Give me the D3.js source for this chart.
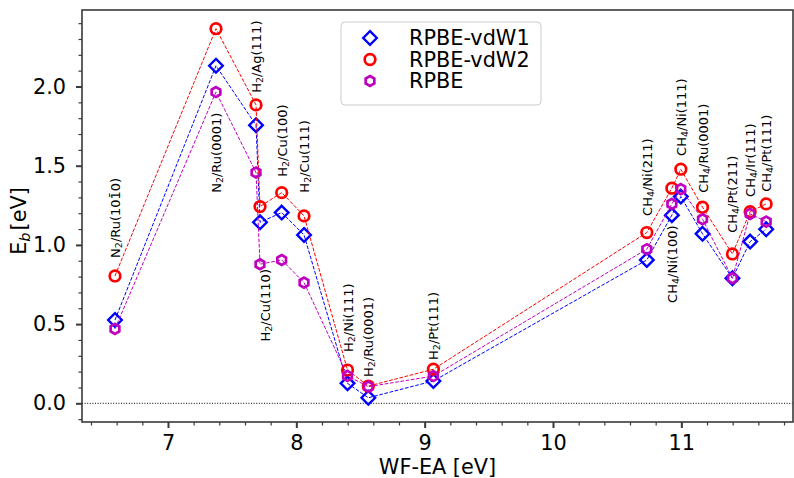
<!DOCTYPE html>
<html>
<head>
<meta charset="utf-8">
<script src="https://cdn.jsdelivr.net/npm/d3@7"></script>
<style>
  body { margin: 0; background: #fff; }
  text { font-family: "DejaVu Sans", sans-serif; }
</style>
</head>
<body>
<svg width="794" height="478"></svg>
<script>
// systems, "_" marks a subscript digit
var systems = [
    "N_2/Ru(101\u03040)", "N_2/Ru(0001)", "H_2/Ag(111)", "H_2/Cu(110)", "H_2/Cu(100)", "H_2/Cu(111)",
    "H_2/Ni(111)", "H_2/Ru(0001)", "H_2/Pt(111)",
    "CH_4/Ni(211)", "CH_4/Ni(100)", "CH_4/Ni(111)", "CH_4/Ru(0001)", "CH_4/Pt(211)", "CH_4/Ir(111)", "CH_4/Pt(111)"
]
var wfea = [6.587, 7.374, 7.686, 7.717, 7.886, 8.060, 8.399, 8.561, 9.068,
    10.731, 10.926, 10.996, 11.165, 11.398, 11.536, 11.661]
var vdw1 = [0.526, 2.131, 1.756, 1.143, 1.204, 1.063, 0.126, 0.035, 0.141,
    0.905, 1.188, 1.305, 1.070, 0.790, 1.021, 1.099]
var vdw2 = [0.804, 2.365, 1.884, 1.242, 1.330, 1.183, 0.210, 0.109, 0.215,
    1.078, 1.358, 1.478, 1.238, 0.943, 1.210, 1.259]
var rpbe = [0.470, 1.965, 1.457, 0.878, 0.905, 0.762, 0.173, 0.105, 0.172,
    0.973, 1.259, 1.352, 1.162, 0.790, 1.196, 1.147]
// where each rotated label starts (data units)
var labelX = [6.587, 7.374, 7.686, 7.755, 7.886, 8.060, 8.399, 8.561, 9.068,
    10.731, 10.926, 10.996, 11.165, 11.398, 11.536, 11.661]
var labelY = [0.918, 1.329, 1.960, 0.390, 1.430, 1.330, 0.324, 0.166, 0.274,
    1.183, 0.634, 1.562, 1.329, 1.076, 1.303, 1.335]
var seriesNames = ["RPBE-vdW1", "RPBE-vdW2", "RPBE"]
var xTicks = [7, 8, 9, 10, 11]
var yTicks = [0.0, 0.5, 1.0, 1.5, 2.0]

var plotLeft = 82, plotRight = 793, plotTop = 10, plotBottom = 422
var spine = "#3a3a3a"

var x = d3.scaleLinear().domain([6.33, 11.87]).range([plotLeft, plotRight])
var y = d3.scaleLinear().domain([-0.118, 2.483]).range([plotBottom, plotTop])

var svg = d3.select("svg")

// zero line
svg.append("line")
    .attr("x1", plotLeft).attr("x2", plotRight)
    .attr("y1", y(0)).attr("y2", y(0))
    .attr("stroke", "#000").attr("stroke-width", 1)
    .attr("stroke-dasharray", "1,1.6")

// minor ticks
var xMinor = d3.range(6.4, 11.87, 0.2).filter(function (v) { return Math.abs(v - Math.round(v)) > 0.01 })
var yMinor = d3.range(-0.1, 2.483, 0.1).filter(function (v) { return Math.abs(v * 2 - Math.round(v * 2)) > 0.01 })

svg.append("g")
    .attr("transform", "translate(0," + plotBottom + ")")
    .call(d3.axisBottom(x).tickValues(xMinor).tickSize(3.5).tickFormat(""))
    .call(function (g) { g.select(".domain").remove() })
    .selectAll("line").attr("stroke", spine).attr("stroke-width", 1.2)

svg.append("g")
    .attr("transform", "translate(" + plotLeft + ",0)")
    .call(d3.axisLeft(y).tickValues(yMinor).tickSize(3.5).tickFormat(""))
    .call(function (g) { g.select(".domain").remove() })
    .selectAll("line").attr("stroke", spine).attr("stroke-width", 1.2)

// major ticks
var gx = svg.append("g")
    .attr("transform", "translate(0," + plotBottom + ")")
    .call(d3.axisBottom(x).tickValues(xTicks).tickSize(6).tickPadding(7).tickFormat(d3.format("d")))
gx.select(".domain").remove()
gx.selectAll("line").attr("stroke", spine).attr("stroke-width", 2)
gx.selectAll("text").attr("font-size", 20.8).attr("fill", "#000")
    .style("font-family", "DejaVu Sans")

var gy = svg.append("g")
    .attr("transform", "translate(" + plotLeft + ",0)")
    .call(d3.axisLeft(y).tickValues(yTicks).tickSize(6).tickPadding(10).tickFormat(d3.format(".1f")))
gy.select(".domain").remove()
gy.selectAll("line").attr("stroke", spine).attr("stroke-width", 2)
gy.selectAll("text").attr("font-size", 20.8).attr("fill", "#000")
    .style("font-family", "DejaVu Sans")

// frame
svg.append("rect")
    .attr("x", plotLeft).attr("y", plotTop)
    .attr("width", plotRight - plotLeft).attr("height", plotBottom - plotTop)
    .attr("fill", "none").attr("stroke", spine).attr("stroke-width", 1.6)

// axis titles
svg.append("text")
    .attr("x", (plotLeft + plotRight) / 2).attr("y", 474)
    .attr("text-anchor", "middle").attr("font-size", 20.8)
    .text("WF-EA [eV]")

var yl = svg.append("text")
    .attr("transform", "translate(26," + ((plotTop + plotBottom) / 2 + 5) + ") rotate(-90)")
    .attr("text-anchor", "middle").attr("font-size", 20.8)
yl.append("tspan").text("E")
yl.append("tspan").attr("font-size", 14.5).attr("font-style", "italic").attr("dy", 4).text("b")
yl.append("tspan").attr("dy", -4).attr("dx", 2).text("[eV]")

// marker shapes
function diamond(r) {
    return d3.line()([[0, -r], [r, 0], [0, r], [-r, 0]]) + "Z"
}
function hexagon(r) {
    var pts = d3.range(6).map(function (k) {
        var a = (-90 + 60 * k) * Math.PI / 180
        return [r * Math.cos(a), r * Math.sin(a)]
    })
    return d3.line()(pts) + "Z"
}
function circle(r) {
    return "M" + (-r) + ",0A" + r + "," + r + " 0 1,0 " + r + ",0A" + r + "," + r + " 0 1,0 " + (-r) + ",0Z"
}

var series = [
    { name: seriesNames[0], values: vdw1, color: "#0000ff", shape: diamond(6.8), width: 2.4 },
    { name: seriesNames[1], values: vdw2, color: "#ff0000", shape: circle(5.3), width: 2.7 },
    { name: seriesNames[2], values: rpbe, color: "#bf00bf", shape: hexagon(5), width: 2.7 }
]

var line = d3.line()
    .x(function (d) { return x(d[0]) })
    .y(function (d) { return y(d[1]) })

series.forEach(function (s) {
    var pts = wfea.map(function (w, i) { return [w, s.values[i]] })
    svg.append("path")
        .attr("d", line(pts))
        .attr("fill", "none")
        .attr("stroke", s.color)
        .attr("stroke-width", 1)
        .attr("stroke-dasharray", "3.7,1.6")

    svg.append("g").selectAll("path")
        .data(pts)
        .enter()
        .append("path")
        .attr("transform", function (d) { return "translate(" + x(d[0]) + "," + y(d[1]) + ")" })
        .attr("d", s.shape)
        .attr("fill", "none")
        .attr("stroke", s.color)
        .attr("stroke-width", s.width)
})

// rotated system labels
systems.forEach(function (name, i) {
    var t = svg.append("text")
        .attr("transform", "translate(" + x(labelX[i]) + "," + y(labelY[i]) + ") rotate(-90)")
        .attr("font-size", 13)
        .attr("dominant-baseline", "central")
    var parts = name.split(/_(\d)/)
    parts.forEach(function (p, j) {
        if (!p) return
        if (j % 2 === 1) {
            t.append("tspan").attr("font-size", 9.5).attr("dy", 3).text(p)
        } else {
            t.append("tspan").attr("dy", j > 0 ? -3 : 0).text(p)
        }
    })
})

// legend
var lg = svg.append("g")
lg.append("rect")
    .attr("x", 341).attr("y", 22)
    .attr("width", 200).attr("height", 83)
    .attr("rx", 4)
    .attr("fill", "#fff").attr("fill-opacity", 0.8)
    .attr("stroke", "#cccccc").attr("stroke-width", 1)

series.forEach(function (s, i) {
    var cy = 38 + i * 21.5
    lg.append("path")
        .attr("transform", "translate(370," + cy + ")")
        .attr("d", s.shape)
        .attr("fill", "none")
        .attr("stroke", s.color)
        .attr("stroke-width", s.width)
    lg.append("text")
        .attr("x", 409).attr("y", cy)
        .attr("dominant-baseline", "central")
        .attr("font-size", 20.8)
        .text(s.name)
})
</script>
</body>
</html>
